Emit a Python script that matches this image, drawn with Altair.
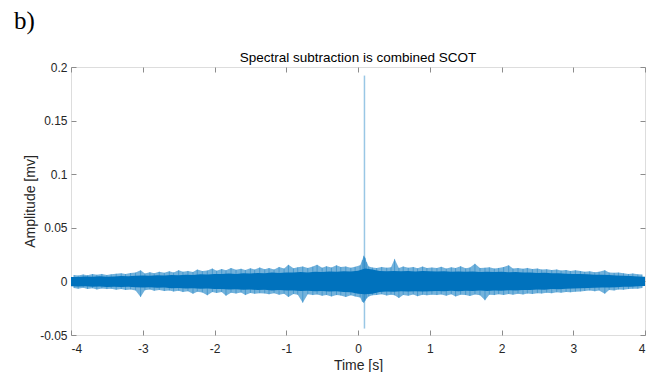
import altair as alt
import pandas as pd

# ---- data (amplitudes, in units of 1e-3) ----
x_ticks = [-4, -3, -2, -1, 0, 1, 2, 3, 4]
y_ticks = [-0.05, 0, 0.05, 0.1, 0.15, 0.2]

core_t = [-4.0, -3.9, -3.8, -3.7, -3.6, -3.5, -3.4, -3.3, -3.2, -3.1, -3.0,
          -2.9, -2.8, -2.7, -2.6, -2.5, -2.4, -2.3, -2.2, -2.1, -2.0,
          -1.9, -1.8, -1.7, -1.6, -1.5, -1.4, -1.3, -1.2, -1.1, -1.0,
          -0.9, -0.8, -0.7, -0.6, -0.5, -0.4, -0.3, -0.2, -0.1, 0.0,
          0.1, 0.2, 0.3, 0.4, 0.5, 0.6, 0.7, 0.8, 0.9, 1.0,
          1.1, 1.2, 1.3, 1.4, 1.5, 1.6, 1.7, 1.8, 1.9, 2.0,
          2.1, 2.2, 2.3, 2.4, 2.5, 2.6, 2.7, 2.8, 2.9, 3.0,
          3.1, 3.2, 3.3, 3.4, 3.5, 3.6, 3.7, 3.8, 3.9, 4.0]
core_hi = [4.2, 4.0, 4.5, 4.3, 4.8, 4.4, 4.6, 5.0, 4.7, 5.2, 5.4,
           5.3, 5.8, 5.5, 6.0, 5.7, 6.3, 6.0, 6.6, 6.4, 7.0,
           6.8, 7.3, 7.0, 7.6, 7.4, 7.9, 7.6, 8.2, 7.9, 8.4,
           8.2, 8.7, 8.4, 9.0, 8.7, 9.2, 8.9, 9.5, 9.3, 10.0,
           12.0, 11.0, 9.8, 9.5, 9.8, 9.4, 9.7, 9.3, 9.6, 9.4,
           9.2, 9.5, 9.0, 9.3, 8.9, 9.2, 8.8, 9.1, 8.7, 8.9,
           8.5, 8.7, 8.2, 8.4, 7.9, 8.0, 7.5, 7.6, 7.1, 7.0,
           6.8, 6.6, 6.3, 6.1, 6.0, 5.6, 5.3, 5.0, 4.6, 4.3]
core_lo = [-4.6, -4.8, -4.5, -5.0, -4.7, -5.2, -4.9, -5.3, -5.0, -5.4, -5.6,
           -5.5, -6.0, -5.8, -6.3, -6.1, -6.6, -6.4, -6.9, -6.7, -7.2,
           -7.0, -7.5, -7.3, -7.8, -7.6, -8.1, -7.8, -8.4, -8.1, -8.6,
           -8.4, -8.9, -8.7, -9.2, -9.0, -9.5, -9.3, -9.8, -10.2, -11.5,
           -12.0, -11.5, -9.8, -9.4, -9.7, -9.3, -9.5, -9.2, -9.4, -9.1,
           -9.0, -9.3, -8.8, -9.1, -8.7, -9.0, -8.6, -8.9, -8.5, -8.7,
           -8.3, -8.4, -8.0, -8.1, -7.6, -7.7, -7.2, -7.3, -6.8, -6.7,
           -6.5, -6.2, -6.0, -5.8, -5.7, -5.4, -5.1, -4.9, -4.6, -4.4]

spike_t = [-3.96, -3.90, -3.83, -3.77, -3.70, -3.64, -3.57, -3.50, -3.44, -3.37,
           -3.30, -3.24, -3.17, -3.10, -3.03, -2.97, -2.90, -2.84, -2.77, -2.70,
           -2.63, -2.57, -2.50, -2.44, -2.37, -2.30, -2.24, -2.17, -2.10, -2.03,
           -1.97, -1.90, -1.84, -1.77, -1.70, -1.63, -1.57, -1.50, -1.44, -1.37,
           -1.30, -1.24, -1.17, -1.10, -1.03, -0.97, -0.90, -0.84, -0.77, -0.70,
           -0.63, -0.57, -0.50, -0.44, -0.37, -0.30, -0.24, -0.17, -0.10, -0.04,
           0.03, 0.06, 0.08, 0.10, 0.12, 0.15, 0.20, 0.26, 0.33, 0.40,
           0.46, 0.51, 0.57, 0.63, 0.70, 0.77, 0.83, 0.90, 0.96, 1.03,
           1.10, 1.16, 1.23, 1.30, 1.36, 1.43, 1.50, 1.56, 1.63, 1.70,
           1.77, 1.83, 1.90, 1.96, 2.03, 2.10, 2.16, 2.23, 2.30, 2.36,
           2.43, 2.50, 2.56, 2.63, 2.70, 2.77, 2.83, 2.90, 2.96, 3.03,
           3.10, 3.16, 3.23, 3.30, 3.36, 3.44, 3.50, 3.57, 3.63, 3.70,
           3.77, 3.83, 3.90, 3.96]
spike_hi = [6.0, 5.5, 6.5, 5.8, 6.8, 6.2, 7.0, 6.0, 6.6, 7.2,
            7.5, 6.8, 7.8, 8.2, 10.3, 7.4, 8.6, 7.6, 9.0, 8.0,
            9.4, 8.4, 10.5, 9.0, 9.8, 8.8, 11.0, 9.6, 10.2, 12.0,
            10.0, 11.5, 10.4, 12.5, 10.8, 11.8, 10.6, 12.2, 11.0, 13.0,
            11.4, 12.4, 11.2, 13.5, 12.0, 15.5, 12.2, 13.2, 14.0, 12.6,
            13.8, 15.5, 12.8, 14.2, 13.0, 15.0, 13.4, 14.0, 12.8, 13.6,
            15.0, 20.0, 24.0, 22.0, 18.0, 14.0, 13.0, 12.5, 13.5, 12.8,
            13.2, 21.0, 12.6, 14.0, 12.8, 13.5, 12.2, 13.8, 12.5, 13.0,
            12.4, 13.6, 12.0, 13.2, 12.4, 14.2, 12.2, 13.0, 16.5, 12.6,
            12.8, 13.2, 12.0, 12.6, 13.4, 15.0, 12.0, 12.4, 11.8, 12.6,
            11.6, 12.0, 11.0, 11.4, 10.6, 11.2, 10.2, 10.6, 9.8, 10.4,
            9.6, 9.0, 9.4, 8.6, 9.0, 10.5, 8.4, 8.0, 8.2, 7.6,
            7.0, 7.4, 6.6, 6.4]
spike_lo = [-6.2, -6.8, -5.9, -7.0, -6.4, -7.5, -6.6, -7.2, -6.8, -7.8,
            -7.2, -8.0, -7.5, -8.4, -14.6, -8.2, -7.6, -8.8, -8.0, -9.0,
            -8.6, -9.5, -8.8, -10.0, -9.2, -11.5, -9.6, -10.4, -13.0, -10.0,
            -10.8, -10.0, -13.5, -10.6, -11.4, -10.4, -12.8, -10.8, -11.6, -11.0,
            -11.2, -12.0, -11.0, -12.5, -11.6, -14.5, -11.8, -12.4, -20.0, -12.0,
            -12.8, -12.2, -13.5, -12.6, -14.0, -12.8, -13.2, -14.5, -13.0, -14.0,
            -15.0, -19.0, -20.0, -18.0, -16.0, -14.0, -13.0, -12.6, -12.0, -13.2,
            -12.4, -13.0, -15.5, -12.6, -13.4, -12.2, -13.8, -12.5, -13.0, -12.4,
            -12.8, -12.2, -13.4, -12.0, -14.0, -12.4, -12.8, -13.6, -12.2, -13.0,
            -17.7, -12.4, -12.8, -12.0, -12.6, -11.8, -12.4, -11.6, -12.2, -11.4,
            -11.8, -11.0, -11.4, -10.6, -11.0, -10.2, -10.6, -9.8, -10.2, -9.6,
            -9.4, -9.0, -8.6, -9.2, -8.4, -11.5, -8.0, -8.4, -7.6, -7.8,
            -7.2, -6.8, -6.8, -6.2]

peak_t = [0.09]
peak_hi = [192.0]
peak_lo = [-44.0]

panel_text = ["b)"]
title_text = ["Spectral subtraction is combined SCOT"]

# ---- tables ----
core = pd.DataFrame({"t": core_t, "hi": [v / 1000 for v in core_hi],
                     "lo": [v / 1000 for v in core_lo]})
spikes = pd.DataFrame({"t": spike_t, "hi": [v / 1000 for v in spike_hi],
                       "lo": [v / 1000 for v in spike_lo]})
peak = pd.DataFrame({"t": peak_t, "hi": [v / 1000 for v in peak_hi],
                     "lo": [v / 1000 for v in peak_lo]})
label_df = pd.DataFrame({"label": panel_text})
title_df = pd.DataFrame({"label": title_text})

BLUE = "#0072BD"
LINE = "#8c8c8c"
FONT = "Liberation Sans"

xs = alt.Scale(domain=[-4, 4], nice=False, zero=False)
ys = alt.Scale(domain=[-0.05, 0.2], nice=False, zero=False)

common = dict(grid=False, domain=False, tickColor=LINE, tickSize=5, tickWidth=1,
              offset=-5, labelFont=FONT, labelFontSize=12, labelColor="#262626",
              titleFont=FONT, titleFontSize=14, titleColor="#262626",
              titleFontWeight="normal")

x_bottom = alt.Axis(orient="bottom", values=x_ticks, labelExpr="toString(datum.value)",
                    labelPadding=8, titlePadding=4, **common)
y_left = alt.Axis(orient="left", values=y_ticks, labelExpr="toString(datum.value)",
                  labelPadding=4, titlePadding=2, **common)
x_top = alt.Axis(orient="top", values=x_ticks, labels=False, **common)
y_right = alt.Axis(orient="right", values=y_ticks, labels=False, **common)

fringe = alt.Chart(spikes).mark_area(color=BLUE, opacity=0.55).encode(
    x=alt.X("t:Q", scale=xs, axis=x_top, title=""),
    y=alt.Y("hi:Q", scale=ys, axis=y_right, title=""),
    y2="lo:Q",
)
rules = alt.Chart(spikes).mark_rule(color=BLUE, opacity=0.5, strokeWidth=0.8).encode(
    x=alt.X("t:Q", scale=xs, axis=None),
    y=alt.Y("hi:Q", scale=ys, axis=None),
    y2="lo:Q",
)
peak_rule = alt.Chart(peak).mark_rule(color=BLUE, opacity=0.4, strokeWidth=1.5).encode(
    x=alt.X("t:Q", scale=xs, axis=None),
    y=alt.Y("hi:Q", scale=ys, axis=None),
    y2="lo:Q",
)
band = alt.Chart(core).mark_area(color=BLUE, opacity=1).encode(
    x=alt.X("t:Q", scale=xs, axis=x_bottom, title="Time [s]"),
    y=alt.Y("hi:Q", scale=ys, axis=y_left, title="Amplitude [mv]"),
    y2="lo:Q",
)
panel_label = alt.Chart(label_df).mark_text(
    font="Liberation Serif", fontSize=25, align="left", baseline="alphabetic", color="black"
).encode(x=alt.value(-57), y=alt.value(-38), text="label:N")
title_mark = alt.Chart(title_df).mark_text(
    font=FONT, fontSize=13.5, align="center", baseline="alphabetic", color="black"
).encode(x=alt.value(287), y=alt.value(-5), text="label:N")

chart = alt.layer(fringe, rules, peak_rule, band, panel_label, title_mark).resolve_axis(
    x="independent", y="independent"
).properties(
    width=574,
    height=268,
    autosize=alt.AutoSizeParams(type="none"),
    padding={"left": 71, "top": 67, "right": 8, "bottom": 37},
).configure_view(stroke=LINE, strokeWidth=1).configure(background="white")

chart.save("out.html", embed_options={"renderer": "svg", "actions": False})
